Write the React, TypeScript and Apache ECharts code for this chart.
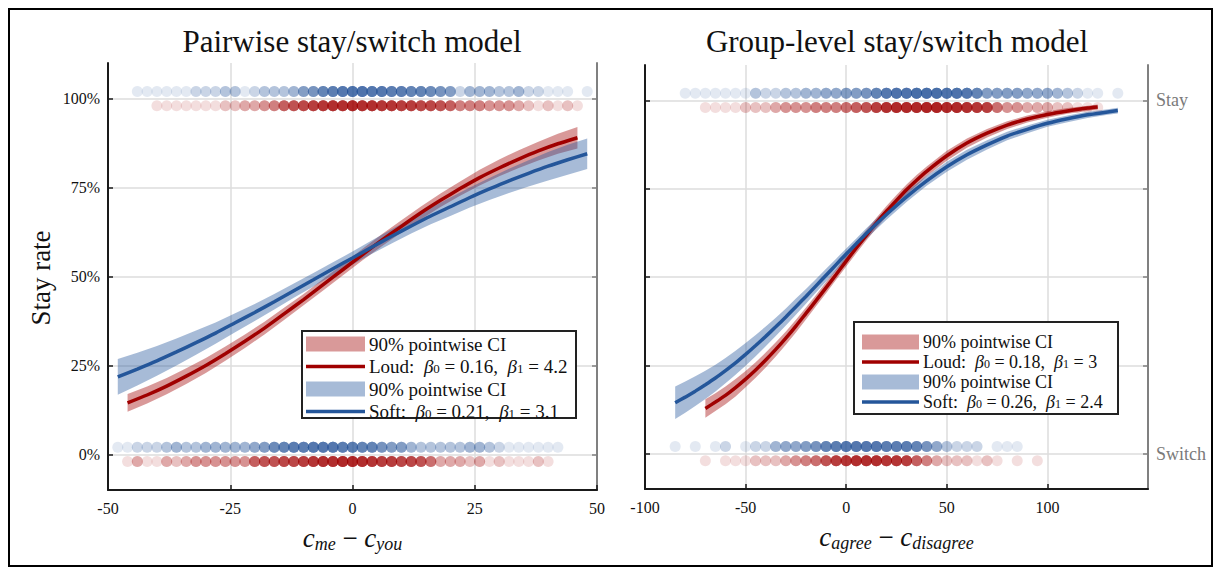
import { useEffect, useRef } from "react";
import * as echarts from "echarts";

// ---------- Data ----------
const leftXTicks = [-50, -25, 0, 25, 50];
const rightXTicks = [-100, -50, 0, 50, 100];
const pctTicks = [0, 25, 50, 75, 100];

// observation strips: [x, number of overlapping points]
const lStayBlue: [number, number][] = [[-44,1],[-42,1],[-40,1],[-38,1],[-36,1],[-34,1],[-32,2],[-30,2],[-28,2],[-26,3],[-24,3],[-22,1],[-20,2],[-18,3],[-16,3],[-14,3],[-12,4],[-10,6],[-8,7],[-6,9],[-4,10],[-2,11],[0,12],[2,12],[4,11],[6,11],[8,10],[10,10],[12,9],[14,9],[16,8],[18,7],[20,6],[22,2],[24,4],[26,4],[28,4],[30,3],[32,3],[34,4],[36,2],[38,2],[40,1],[42,1],[44,1],[48,1]];
const lStayRed: [number, number][] = [[-40,1],[-38,1],[-36,1],[-34,1],[-32,1],[-30,1],[-28,1],[-26,2],[-24,2],[-22,3],[-20,3],[-18,4],[-16,5],[-14,7],[-12,8],[-10,9],[-8,10],[-6,11],[-4,12],[-2,12],[0,13],[2,12],[4,12],[6,11],[8,11],[10,10],[12,10],[14,9],[16,9],[18,8],[20,7],[22,5],[24,5],[26,5],[28,4],[30,4],[32,4],[34,3],[36,2],[38,1],[40,2],[42,1],[44,2],[46,1]];
const lSwitchBlue: [number, number][] = [[-48,1],[-46,1],[-44,2],[-42,2],[-40,2],[-38,3],[-36,4],[-34,3],[-32,3],[-30,4],[-28,4],[-26,4],[-24,4],[-22,4],[-20,5],[-18,6],[-16,8],[-14,9],[-12,10],[-10,10],[-8,11],[-6,11],[-4,11],[-2,10],[0,10],[2,9],[4,9],[6,7],[8,6],[10,6],[12,4],[14,3],[16,3],[18,3],[20,3],[22,3],[24,4],[26,4],[28,3],[30,2],[32,1],[34,1],[36,1],[38,1],[40,1],[42,1]];
const lSwitchRed: [number, number][] = [[-46,1],[-44,3],[-42,1],[-40,1],[-38,3],[-36,2],[-34,3],[-32,4],[-30,4],[-28,4],[-26,4],[-24,4],[-22,4],[-20,7],[-18,8],[-16,8],[-14,9],[-12,9],[-10,10],[-8,11],[-6,12],[-4,12],[-2,13],[0,13],[2,12],[4,11],[6,10],[8,10],[10,9],[12,9],[14,8],[16,6],[18,3],[20,3],[22,3],[24,2],[26,3],[28,1],[30,2],[32,1],[34,1],[36,1],[38,2],[40,1]];

const rStayBlue: [number, number][] = [[-80,1],[-75,1],[-70,1],[-65,1],[-60,1],[-55,1],[-50,1],[-45,3],[-40,2],[-35,2],[-30,3],[-25,3],[-20,4],[-15,4],[-10,5],[-5,5],[0,6],[5,6],[10,7],[15,9],[20,11],[25,12],[30,12],[35,13],[40,13],[45,13],[50,12],[55,12],[60,11],[65,9],[70,6],[75,6],[80,6],[85,6],[90,5],[95,5],[100,5],[105,4],[110,3],[115,2],[120,1],[125,1],[135,1]];
const rStayRed: [number, number][] = [[-70,1],[-65,1],[-60,1],[-55,1],[-50,2],[-45,2],[-40,2],[-35,3],[-30,4],[-25,4],[-20,4],[-15,5],[-10,5],[-5,5],[0,6],[5,7],[10,8],[15,10],[20,12],[25,13],[30,13],[35,13],[40,14],[45,14],[50,13],[55,13],[60,12],[65,11],[70,10],[75,6],[80,4],[85,4],[90,3],[95,3],[100,3],[105,2],[110,2],[115,1],[120,1],[125,1]];
const rSwitchBlue: [number, number][] = [[-85,1],[-75,1],[-65,1],[-60,2],[-50,1],[-45,2],[-40,2],[-35,4],[-30,5],[-25,5],[-20,6],[-15,7],[-10,9],[-5,10],[0,11],[5,11],[10,11],[15,11],[20,10],[25,10],[30,10],[35,9],[40,7],[45,5],[50,3],[55,2],[60,2],[65,2],[75,1],[80,1],[85,1]];
const rSwitchRed: [number, number][] = [[-70,1],[-60,1],[-55,1],[-50,1],[-45,2],[-40,2],[-35,2],[-30,3],[-25,4],[-20,5],[-15,6],[-10,8],[-5,10],[0,11],[5,12],[10,12],[15,12],[20,11],[25,11],[30,10],[35,7],[40,5],[45,3],[50,2],[55,2],[60,2],[65,1],[70,2],[75,1],[85,1],[95,1]];

// fitted curves: [x, lower CI %, fit %, upper CI %]
const lLoud: number[][] = [[-46,12.0,14.5,17.0],[-42,14.3,16.7,19.1],[-38,16.9,19.2,21.5],[-34,19.8,22.0,24.2],[-30,22.9,25.0,27.1],[-26,26.3,28.3,30.3],[-22,29.9,31.8,33.7],[-18,33.7,35.5,37.3],[-14,37.8,39.5,41.2],[-10,41.9,43.5,45.1],[-6,46.1,47.7,49.3],[-2,50.3,51.9,53.5],[2,54.5,56.1,57.7],[6,58.5,60.2,61.9],[10,62.4,64.1,65.8],[14,66.1,67.9,69.7],[18,69.5,71.4,73.3],[22,72.7,74.7,76.7],[26,75.6,77.8,80.0],[30,78.2,80.5,82.9],[34,80.5,83.0,85.5],[38,82.6,85.3,87.9],[42,84.5,87.3,90.1],[46,86.0,89.0,92.0]];
const lSoft: number[][] = [[-48,16.8,21.8,26.8],[-44,19.4,24.0,28.6],[-40,22.1,26.3,30.5],[-36,25.0,28.8,32.6],[-32,28.0,31.4,34.8],[-28,31.1,34.1,37.1],[-24,34.3,37.0,39.7],[-20,37.5,39.9,42.3],[-16,40.7,42.9,45.1],[-12,44.0,46.0,48.0],[-8,47.2,49.1,51.0],[-4,50.4,52.2,54.0],[0,53.4,55.2,57.0],[4,56.4,58.3,60.2],[8,59.3,61.3,63.3],[12,62.1,64.2,66.3],[16,64.7,67.0,69.3],[20,67.0,69.6,72.2],[24,69.4,72.2,75.0],[28,71.5,74.6,77.7],[32,73.5,76.9,80.3],[36,75.3,79.0,82.7],[40,77.0,81.0,85.0],[44,78.6,82.8,87.0],[48,80.2,84.5,88.8]];
const rLoud: number[][] = [[-70,10.2,12.8,15.4],[-65,12.1,14.6,17.1],[-60,14.0,16.5,19.0],[-55,16.2,18.7,21.1],[-50,18.8,21.1,23.4],[-45,21.5,23.7,25.9],[-40,24.4,26.5,28.6],[-35,27.5,29.5,31.5],[-30,30.8,32.7,34.6],[-25,34.3,36.1,37.9],[-20,38.0,39.7,41.4],[-15,41.7,43.3,44.9],[-10,45.4,47.0,48.6],[-5,49.2,50.7,52.2],[0,53.0,54.5,56.0],[5,56.7,58.2,59.7],[10,60.3,61.8,63.3],[15,63.8,65.3,66.8],[20,67.1,68.6,70.1],[25,70.2,71.7,73.2],[30,73.2,74.7,76.2],[35,75.9,77.4,78.9],[40,78.5,79.9,81.3],[50,82.9,84.3,85.7],[60,86.6,87.9,89.2],[70,89.5,90.7,91.9],[80,91.9,93.0,94.1],[90,93.7,94.7,95.7],[100,95.1,96.0,96.9],[110,96.2,97.0,97.8],[120,97.0,97.8,98.5],[125,97.4,98.1,98.8]];
const rSoft: number[][] = [[-85,9.8,14.4,19.0],[-80,11.6,16.0,20.4],[-75,13.5,17.7,21.9],[-70,15.5,19.5,23.5],[-65,17.6,21.4,25.2],[-60,19.9,23.5,27.1],[-55,22.3,25.7,29.1],[-50,24.9,28.1,31.3],[-45,27.6,30.6,33.6],[-40,30.4,33.2,36.0],[-35,33.3,35.9,38.5],[-30,36.3,38.7,41.1],[-25,39.3,41.6,43.9],[-20,42.4,44.5,46.6],[-15,45.6,47.5,49.4],[-10,48.7,50.5,52.3],[-5,51.8,53.5,55.2],[0,54.9,56.5,58.1],[5,57.9,59.4,60.9],[10,60.8,62.3,63.8],[20,66.2,67.7,69.2],[30,71.2,72.7,74.2],[40,75.8,77.2,78.6],[50,79.8,81.2,82.6],[60,83.2,84.6,86.0],[70,86.1,87.4,88.7],[80,88.7,89.9,91.1],[90,90.7,91.8,92.9],[100,92.5,93.5,94.5],[110,93.8,94.8,95.7],[120,95.0,95.9,96.8],[130,95.9,96.7,97.5],[135,96.3,97.1,97.9]];

const legendLeft = ["90% pointwise CI", "Loud:", "0.16", "4.2", "90% pointwise CI", "Soft:", "0.21", "3.1"];
const legendRight = ["90% pointwise CI", "Loud:", "0.18", "3", "90% pointwise CI", "Soft:", "0.26", "2.4"];

// ---------- Styles ----------
const FF = "'Liberation Serif', 'Times New Roman', serif";
const RED = "#a00000";
const BLUE = "#24569a";
const RED_BAND = "rgba(160,0,0,0.40)";
const BLUE_BAND = "rgba(36,86,154,0.40)";
const GRID_C = "#dcdcdc";
const AXIS_C = "#1a1a1a";
const BOX_C = "#808080";
const Y_STAY_BLUE = 102;
const Y_STAY_RED = 98;
const Y_SW_BLUE = 2;
const Y_SW_RED = -2;

function expand(pairs: [number, number][], y: number) {
  const out: number[][] = [];
  for (const [x, n] of pairs) for (let i = 0; i < n; i++) out.push([x, y]);
  return out;
}

function strip(pairs: [number, number][], y: number, color: string, gi: number) {
  return {
    type: "scatter", xAxisIndex: gi, yAxisIndex: gi * 2, data: expand(pairs, y),
    symbolSize: 11, itemStyle: { color, opacity: 0.13 }, silent: true, z: 1,
  };
}

function band(curve: number[][], color: string, gi: number) {
  return {
    type: "custom", xAxisIndex: gi, yAxisIndex: gi * 2, data: curve, encode: { x: 0, y: [1, 3] },
    silent: true, z: 2, clip: true,
    renderItem: (params: any, api: any) => {
      if (params.dataIndex !== 0) return null;
      const upper = curve.map((c) => api.coord([c[0], c[3]]));
      const lower = curve.slice().reverse().map((c) => api.coord([c[0], c[1]]));
      return { type: "polygon", shape: { points: upper.concat(lower) }, style: { fill: color } };
    },
  };
}

function fit(curve: number[][], color: string, gi: number) {
  return { type: "line", xAxisIndex: gi, yAxisIndex: gi * 2, data: curve.map((c) => [c[0], c[2]]),
    symbol: "none", smooth: 0.2, lineStyle: { color, width: 3.5 }, silent: true, z: 2 };
}

const subRich = {
  c: { fontFamily: FF, fontSize: 27, fontStyle: "italic", color: "#111", lineHeight: 30, verticalAlign: "middle" },
  n: { fontFamily: FF, fontSize: 27, color: "#111", lineHeight: 30, verticalAlign: "middle" },
  s: { fontFamily: FF, fontSize: 18, fontStyle: "italic", color: "#111", lineHeight: 18, verticalAlign: "bottom" },
};

function legRich(size: number) {
  return {
    n: { fontFamily: FF, fontSize: size, color: "#111", lineHeight: size - 2, verticalAlign: "middle" },
    b: { fontFamily: FF, fontSize: size, fontStyle: "italic", color: "#111", lineHeight: size - 2, verticalAlign: "middle" },
    s: { fontFamily: FF, fontSize: Math.round(size * 0.68), color: "#111", lineHeight: Math.round(size * 0.58), verticalAlign: "bottom" },
  };
}

function legend(labels: string[], box: { x: number; y: number; w: number; h: number }, rows: number[], sx: number, sw: number, tx: number, size: number) {
  const rich = legRich(size);
  const els: any[] = [
    { type: "rect", shape: { x: box.x, y: box.y, width: box.w, height: box.h }, style: { fill: "#fff", stroke: "#222", lineWidth: 2 }, z: 100 },
  ];
  const patch = (y: number, color: string) => ({ type: "rect", shape: { x: sx, y: y - 7.5, width: sw, height: 15 }, style: { fill: color }, z: 101 });
  const line = (y: number, color: string) => ({ type: "line", shape: { x1: sx, y1: y, x2: sx + sw, y2: y }, style: { stroke: color, lineWidth: 3.5 }, z: 101 });
  const txt = (y: number, text: string) => ({ type: "text", x: tx, y, z: 102,
    style: { text, rich, textAlign: "left", textVerticalAlign: "middle", font: `${size}px ${FF}`, fill: "#111" } });
  const fitTxt = (name: string, b0: string, b1: string) => `{n|${name}  }{b|β}{s|0}{n| = ${b0},  }{b|β}{s|1}{n| = ${b1}}`;
  els.push(patch(rows[0], RED_BAND), txt(rows[0], `{n|${labels[0]}}`));
  els.push(line(rows[1], RED), txt(rows[1], fitTxt(labels[1], labels[2], labels[3])));
  els.push(patch(rows[2], BLUE_BAND), txt(rows[2], `{n|${labels[4]}}`));
  els.push(line(rows[3], BLUE), txt(rows[3], fitTxt(labels[5], labels[6], labels[7])));
  return els;
}

function xAxis(gi: number, min: number, max: number, interval: number, name: string, hideMax: boolean) {
  return {
    type: "value", gridIndex: gi, min, max, interval,
    axisLine: { show: true, onZero: false, lineStyle: { color: AXIS_C, width: 2 } },
    axisTick: { show: true, inside: true, length: 5, lineStyle: { color: AXIS_C, width: 1.5 } },
    axisLabel: { fontFamily: FF, fontSize: 16, color: "#111", margin: 10, showMaxLabel: !hideMax, showMinLabel: true },
    splitLine: { show: true, lineStyle: { color: GRID_C, width: 1.5 } },
    name, nameLocation: "middle", nameGap: 33, nameTextStyle: { rich: subRich },
  };
}

function yAxis(gi: number, pos: "left" | "right", color: string, labels: boolean, labelVals: number[], fmt: (v: number) => string, split: boolean, labelColor: string, labelSize: number) {
  return {
    type: "value", gridIndex: gi, position: pos, min: -10, max: 110,
    axisLine: { show: true, onZero: false, lineStyle: { color, width: 2 } },
    axisTick: { show: true, inside: true, length: 5, customValues: pctTicks, lineStyle: { color, width: 1.5 } },
    axisLabel: { show: labels, customValues: labelVals, formatter: fmt, fontFamily: FF, fontSize: labelSize, color: labelColor, margin: 8 },
    splitLine: { show: split, lineStyle: { color: GRID_C, width: 1.5 } },
  };
}

export default function App() {
  const ref = useRef<HTMLDivElement>(null);
  useEffect(() => {
    if (!ref.current) return;
    const chart = echarts.init(ref.current, undefined, { renderer: "svg" });
    const option: any = {
      animation: false,
      backgroundColor: "#fff",
      grid: [
        { left: 108, right: 622, top: 63, bottom: 78 },
        { left: 645, right: 71, top: 65, bottom: 79 },
      ],
      xAxis: [
        xAxis(0, leftXTicks[0], leftXTicks[leftXTicks.length - 1], 25, "{c|c}{s|me}{n| − }{c|c}{s|you}", false),
        xAxis(1, rightXTicks[0], 150, 50, "{c|c}{s|agree}{n| − }{c|c}{s|disagree}", true),
      ],
      yAxis: [
        yAxis(0, "left", AXIS_C, true, pctTicks, (v) => `${v}%`, true, "#111", 16),
        yAxis(0, "right", BOX_C, false, pctTicks, (v) => `${v}`, false, "#111", 16),
        yAxis(1, "left", AXIS_C, false, pctTicks, (v) => `${v}`, true, "#111", 16),
        yAxis(1, "right", BOX_C, true, [0, 100], (v) => (v === 100 ? "Stay" : v === 0 ? "Switch" : ""), false, "#7a7a7a", 18),
      ],
      series: [
        strip(lStayBlue, Y_STAY_BLUE, BLUE, 0),
        strip(lStayRed, Y_STAY_RED, RED, 0),
        strip(lSwitchBlue, Y_SW_BLUE, BLUE, 0),
        strip(lSwitchRed, Y_SW_RED, RED, 0),
        strip(rStayBlue, Y_STAY_BLUE, BLUE, 1),
        strip(rStayRed, Y_STAY_RED, RED, 1),
        strip(rSwitchBlue, Y_SW_BLUE, BLUE, 1),
        strip(rSwitchRed, Y_SW_RED, RED, 1),
        band(lLoud, RED_BAND, 0),
        fit(lLoud, RED, 0),
        band(lSoft, BLUE_BAND, 0),
        fit(lSoft, BLUE, 0),
        band(rLoud, RED_BAND, 1),
        fit(rLoud, RED, 1),
        band(rSoft, BLUE_BAND, 1),
        fit(rSoft, BLUE, 1),
      ],
      graphic: [
        { type: "rect", shape: { x: 9, y: 9, width: 1203, height: 557 }, style: { fill: "none", stroke: "#000", lineWidth: 2 }, z: 50, silent: true },
        { type: "text", x: 352, y: 41, z: 60, style: { text: "Pairwise stay/switch model", font: `31px ${FF}`, fill: "#111", textAlign: "center", textVerticalAlign: "middle" } },
        { type: "text", x: 897, y: 41, z: 60, style: { text: "Group-level stay/switch model", font: `31px ${FF}`, fill: "#111", textAlign: "center", textVerticalAlign: "middle" } },
        { type: "text", x: 41, y: 278, rotation: Math.PI / 2, z: 60, style: { text: "Stay rate", font: `27px ${FF}`, fill: "#111", textAlign: "center", textVerticalAlign: "middle" } },
        ...legend(legendLeft, { x: 302, y: 331, w: 274, h: 87 }, [344, 366.5, 389, 411.5], 306, 59, 369, 19),
        ...legend(legendRight, { x: 854, y: 322, w: 264, h: 92 }, [342, 362, 382, 402], 862, 57, 923, 18),
      ],
    };
    chart.setOption(option);
    return () => chart.dispose();
  }, []);
  return <div ref={ref} style={{ position: "absolute", left: 0, top: 0, width: 1219, height: 568 }} />;
}
